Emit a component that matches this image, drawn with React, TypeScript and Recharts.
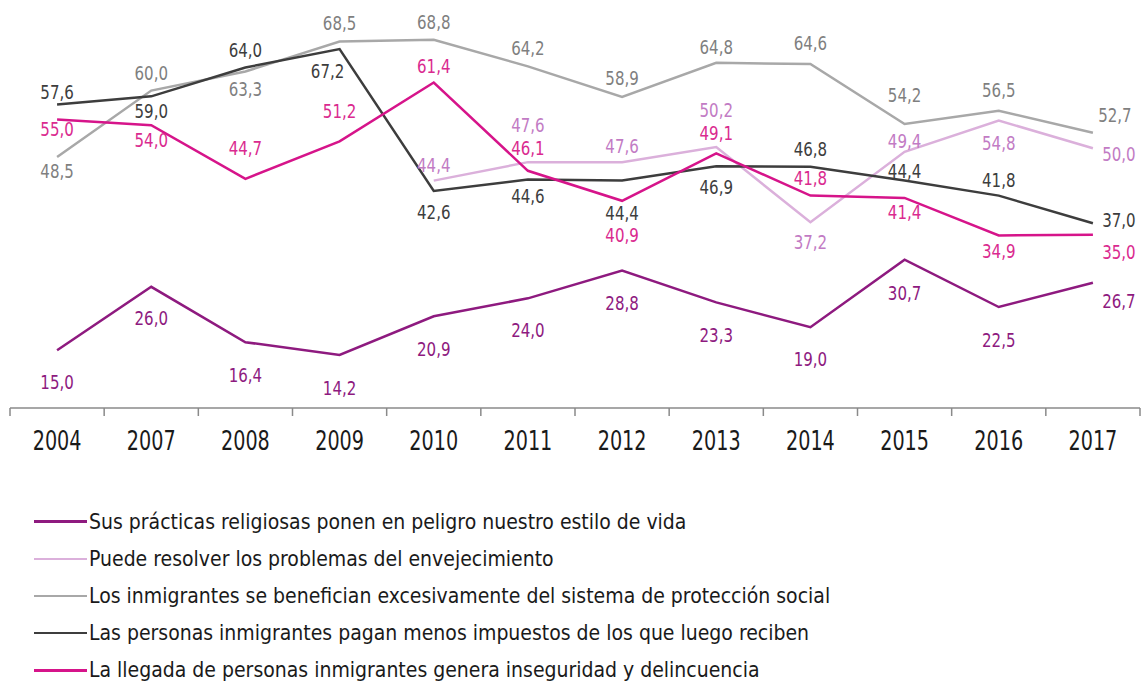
import React from "react";
import { LineChart, Line, XAxis, YAxis } from "recharts";

// categories and series
const years = ["2004", "2007", "2008", "2009", "2010", "2011", "2012", "2013", "2014", "2015", "2016", "2017"];
const religiosas = [15.0, 26.0, 16.4, 14.2, 20.9, 24.0, 28.8, 23.3, 19.0, 30.7, 22.5, 26.7];
const envejecimiento = [null, null, null, null, 44.4, 47.6, 47.6, 50.2, 37.2, 49.4, 54.8, 50.0];
const proteccion = [48.5, 60.0, 63.3, 68.5, 68.8, 64.2, 58.9, 64.8, 64.6, 54.2, 56.5, 52.7];
const impuestos = [57.6, 59.0, 64.0, 67.2, 42.6, 44.6, 44.4, 46.9, 46.8, 44.4, 41.8, 37.0];
const inseguridad = [55.0, 54.0, 44.7, 51.2, 61.4, 46.1, 40.9, 49.1, 41.8, 41.4, 34.9, 35.0];

// label nudges (label centre relative to the point), kept apart from the values
const religiosasDy = [32, 31, 33, 33, 33, 32, 32, 33, 32, 33, 33, 18];
const envejecimientoDy = [0, 0, 0, 0, -16, -37, -16, -37, 20, -11, 22, 6];
const proteccionDy = [14, -18, 17, -19, -18, -18, -19, -16, -21, -29, -21, -18];
const impuestosDy = [-12, 15, -17, 22, 21, 17, 32, 21, -18, -10, -16, -3];
const inseguridadDy = [10, 15, -31, -30, -16, -23, 34, -20, -18, 14, 16, 17];
const lastDx = 26;

const FONT = '"Liberation Sans Narrow", "DejaVu Sans Condensed", "Roboto Condensed", sans-serif';

const W = 1145;
const H = 686;
const margin = { top: 4, right: 5, left: 10, bottom: 218 };
const X_AXIS_H = 60;
const axisY = H - margin.bottom - X_AXIS_H;
const bandW = (W - margin.left - margin.right) / years.length;

const series = [
  { key: "religiosas", name: "Sus prácticas religiosas ponen en peligro nuestro estilo de vida", values: religiosas, dy: religiosasDy, color: "#8e1a7f", text: "#8e1a7f" },
  { key: "envejecimiento", name: "Puede resolver los problemas del envejecimiento", values: envejecimiento, dy: envejecimientoDy, color: "#dbb0db", text: "#c27bc4" },
  { key: "proteccion", name: "Los inmigrantes se benefician excesivamente del sistema de protección social", values: proteccion, dy: proteccionDy, color: "#a8a8a8", text: "#7f7f7f" },
  { key: "impuestos", name: "Las personas inmigrantes pagan menos impuestos de los que luego reciben", values: impuestos, dy: impuestosDy, color: "#3d3d3d", text: "#3d3d3d" },
  { key: "inseguridad", name: "La llegada de personas inmigrantes genera inseguridad y delincuencia", values: inseguridad, dy: inseguridadDy, color: "#d6148a", text: "#da2a8f" },
];

const data = years.map((year, i) => {
  const row: Record<string, any> = { year };
  series.forEach((s) => (row[s.key] = s.values[i]));
  return row;
});

const fmt = (v: number) => v.toFixed(1).replace(".", ",");

// narrow text: the original uses a condensed face
const NarrowText = ({ x, y, sx, size, fill, children }: any) => (
  <text
    transform={`translate(${x} ${y}) scale(${sx} 1)`}
    x={0}
    y={0}
    textAnchor="middle"
    fill={fill}
    fontSize={size}
    fontFamily={FONT}
  >
    {children}
  </text>
);

const makeLabel = (s: (typeof series)[number]) => (props: any) => {
  const { x, y, value, index } = props;
  if (value == null || x == null || y == null) return null;
  let dx = index === years.length - 1 ? (s.key === "proteccion" ? 22 : lastDx) : 0;
  if (s.key === "impuestos" && index === 3) dx = -12;
  return (
    <NarrowText key={`${s.key}-${index}`} x={x + dx} y={y + s.dy[index] + 7} sx={0.88} size={19} fill={s.text}>
      {fmt(value)}
    </NarrowText>
  );
};

const YearTick = (props: any) => {
  const { x, payload, index } = props;
  const left = x - bandW / 2;
  return (
    <g>
      <line x1={left} y1={axisY} x2={left} y2={axisY + 8} stroke="#8a8a8a" strokeWidth={1.5} />
      {index === years.length - 1 && (
        <line x1={x + bandW / 2} y1={axisY} x2={x + bandW / 2} y2={axisY + 8} stroke="#8a8a8a" strokeWidth={1.5} />
      )}
      <NarrowText x={x} y={axisY + 42} sx={0.79} size={27} fill="#1a1a1a">
        {payload.value}
      </NarrowText>
    </g>
  );
};

export default function App() {
  return (
    <div style={{ position: "relative", width: W, height: H, background: "#fff" }}>
      <style>{"body{margin:0;overflow:hidden}"}</style>
      <LineChart width={W} height={H} data={data} margin={margin}>
        <XAxis
          dataKey="year"
          scale="band"
          height={X_AXIS_H}
          axisLine={{ stroke: "#8a8a8a", strokeWidth: 1.5 }}
          tickLine={false}
          tick={<YearTick />}
          interval={0}
        />
        <YAxis hide domain={[5, 75]} />
        {series.map((s) => (
          <Line
            key={s.key}
            type="linear"
            dataKey={s.key}
            stroke={s.color}
            strokeWidth={2.5}
            dot={false}
            activeDot={false}
            connectNulls={false}
            isAnimationActive={false}
            label={makeLabel(s)}
          />
        ))}
      </LineChart>
      <div style={{ position: "absolute", left: 0, top: 503, fontFamily: FONT, fontSize: 21, color: "#1a1a1a" }}>
        {series.map((s) => (
          <div key={s.key} style={{ height: 37.2, display: "flex", alignItems: "center", whiteSpace: "nowrap" }}>
            <span style={{ display: "inline-block", width: 53, height: 2.5, background: s.color, marginLeft: 34, marginRight: 2 }} />
            <span>{s.name}</span>
          </div>
        ))}
      </div>
    </div>
  );
}
